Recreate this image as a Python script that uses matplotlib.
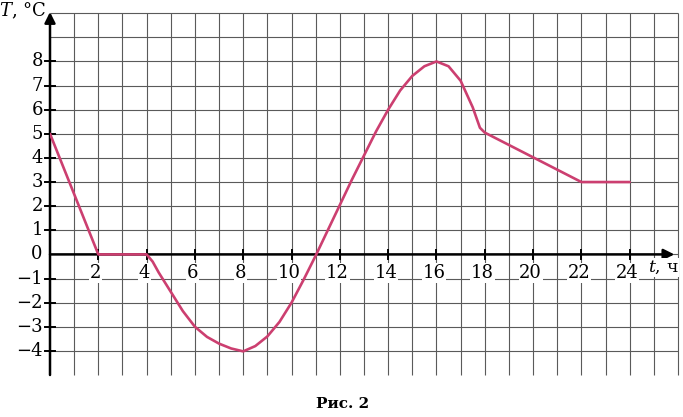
import matplotlib
matplotlib.use("Agg")
import matplotlib.pyplot as plt

# temperature readings (hours, degrees C)
hours = [0, 2, 4, 4.25, 4.5, 5, 5.5, 6, 6.5, 7, 7.5, 8, 8.5, 9, 9.5, 10, 10.5, 11,
         11.5, 12, 12.5, 13, 13.5, 14, 14.5, 15, 15.5, 16, 16.5, 17, 17.5, 17.8, 18, 22, 24]
temps = [5, 0, 0, -0.3, -0.75, -1.55, -2.35, -3.0, -3.42, -3.7, -3.9, -4.02, -3.8, -3.4, -2.8,
         -2.0, -1.05, -0.05, 1.0, 2.05, 3.1, 4.1, 5.1, 6.0, 6.8, 7.4, 7.8, 8.0, 7.8, 7.2, 6.1,
         5.25, 5.05, 3, 3]

x_labels = list(range(2, 25, 2))
y_labels = [-4, -3, -2, -1, 0, 1, 2, 3, 4, 5, 6, 7, 8]

plt.rcParams["font.family"] = ["DejaVu Serif"]
plt.rcParams["mathtext.fontset"] = "dejavuserif"

fig = plt.figure(figsize=(6.83, 4.17), dpi=100)
ax = fig.add_axes([50 / 683, 1 - 375 / 417, 628 / 683, 363 / 417])
ax.set_xlim(0, 26)
ax.set_ylim(-5, 10.05)
for s in ax.spines.values():
    s.set_visible(False)
ax.set_xticks([])
ax.set_yticks([])

grid_kw = dict(color="#5a5a5a", lw=0.8, zorder=1, clip_on=False)
ax.vlines(range(1, 27), -5, 10, **grid_kw)
ax.hlines(range(-4, 11), 0, 26, **grid_kw)

# axes with arrows
ax.annotate("", xy=(25.85, 0), xytext=(0, 0),
            arrowprops=dict(arrowstyle="-|>", lw=1.8, color="black", mutation_scale=16,
                            shrinkA=0, shrinkB=0), zorder=3, annotation_clip=False)
ax.annotate("", xy=(0, 10.05), xytext=(0, -5),
            arrowprops=dict(arrowstyle="-|>", lw=1.8, color="black", mutation_scale=16,
                            shrinkA=0, shrinkB=0), zorder=3, annotation_clip=False)

# tick marks and labels
for x in x_labels:
    ax.plot([x, x], [-0.2, 0.2], color="black", lw=1.4, zorder=3)
    ax.text(x - 0.1, -0.4, str(x), ha="center", va="top", fontsize=13, zorder=4,
            bbox=dict(facecolor="white", edgecolor="none", pad=0.5))
for y in y_labels:
    if y != 0:
        ax.plot([-0.2, 0.2], [y, y], color="black", lw=1.4, zorder=3, clip_on=False)
    lab = str(y).replace("-", "\u2212")
    ax.text(-0.3, y, lab, ha="right", va="center", fontsize=13, clip_on=False)

ax.plot(hours, temps, color="#cc3f70", lw=1.9, zorder=5,
        solid_capstyle="round", solid_joinstyle="round")

ax.text(-0.15, 10.1, "$T$, °C", ha="right", va="center", fontsize=13, clip_on=False)
ax.text(25.4, -0.55, "$t$, ч", ha="center", va="center", fontsize=12.5, clip_on=False,
        bbox=dict(facecolor="white", edgecolor="none", pad=0.5))

fig.text(343 / 683, 1 - 404 / 417, "Рис. 2", ha="center", va="center",
         fontsize=11, fontweight="bold")

fig.savefig("out.png", dpi=100)
